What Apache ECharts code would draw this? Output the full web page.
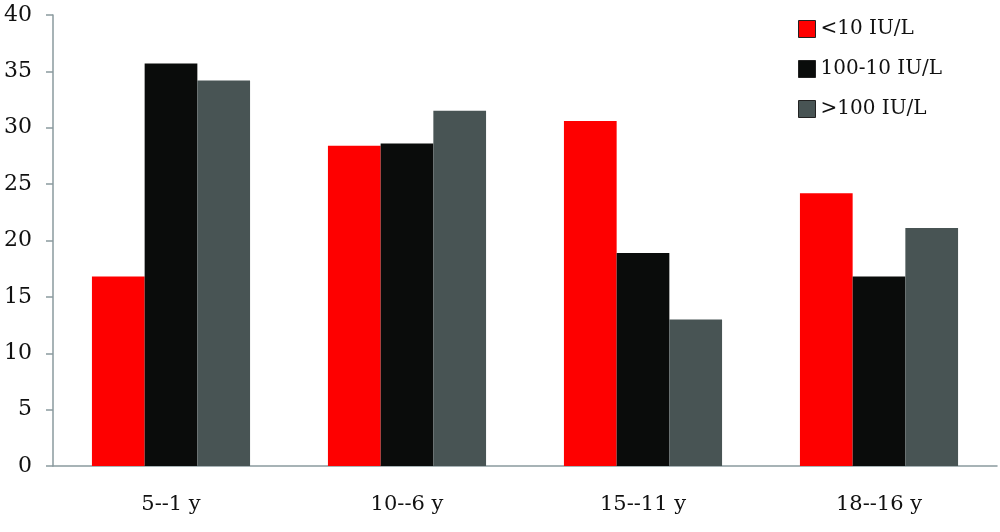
<!DOCTYPE html>
<html><head><meta charset="utf-8">
<script src="https://cdn.jsdelivr.net/npm/echarts@6/dist/echarts.min.js"></script>
<style>html,body{margin:0;padding:0;background:#fff}#c{width:1000px;height:532px}</style>
</head><body><div id="c"></div>
<script>
const categories = ['5--1 y', '10--6 y', '15--11 y', '18--16 y'];
const seriesNames = ['<10 IU/L', '100-10 IU/L', '>100 IU/L'];
const lowValues = [16.8, 28.4, 30.6, 24.2];
const midValues = [35.7, 28.6, 18.9, 16.8];
const highValues = [34.2, 31.5, 13.0, 21.1];
const colors = ['#fe0000', '#0a0c0b', '#485454'];
const font = '"DejaVu Serif", "Liberation Serif", serif';
const chart = echarts.init(document.getElementById('c'));
const axisColor = '#8a9a9e';
chart.setOption({
  animation: false,
  textStyle: {fontFamily: font},
  legend: {
    orient: 'vertical', left: 798, top: 19, itemGap: 20, padding: 0,
    itemWidth: 17, itemHeight: 17, icon: 'rect',
    textStyle: {fontFamily: font, fontSize: 20, lineHeight: 20, color: '#111'},
    data: seriesNames.map((n) => ({name: n, itemStyle: {borderColor: '#222', borderWidth: 1}}))
  },
  grid: {left: 53, right: 3, top: 15, bottom: 66},
  xAxis: {
    type: 'category', data: categories,
    axisLine: {lineStyle: {color: axisColor, width: 1.5}},
    axisTick: {length: 7, lineStyle: {color: axisColor, width: 1.5}},
    axisLabel: {fontFamily: font, fontSize: 21, color: '#111', margin: 28}
  },
  yAxis: {
    type: 'value', min: 0, max: 40, interval: 5,
    axisLine: {show: true, lineStyle: {color: axisColor, width: 1.5}},
    axisTick: {show: true, length: 7, lineStyle: {color: axisColor, width: 1.5}},
    splitLine: {show: false},
    axisLabel: {fontFamily: font, fontSize: 22, color: '#111', margin: 21}
  },
  series: [lowValues, midValues, highValues].map((d, i) => ({
    name: seriesNames[i], type: 'bar', data: d,
    barGap: '0%', barCategoryGap: '33%',
    itemStyle: {color: colors[i]}
  }))
});
</script></body></html>
